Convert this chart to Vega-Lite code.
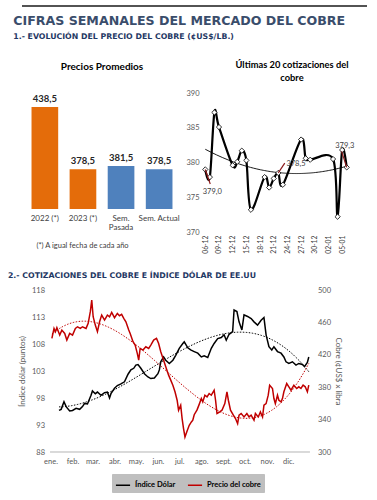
{
  "$schema": "https://vega.github.io/schema/vega-lite/v6.json",
  "background": "white",
  "padding": {"left": 7, "top": 5, "right": 2, "bottom": 2},
  "spacing": 18,
  "resolve": {"scale": {"color": "independent"}, "legend": {"color": "independent"}},
  "config": {
    "font": "Lato",
    "view": {"stroke": null},
    "axis": {"labelFont": "Lato", "labelColor": "#595959", "labelFontSize": 7.5, "titleFont": "Lato", "titleFontWeight": "normal", "titleColor": "#595959", "titleFontSize": 8, "grid": false, "ticks": false, "domain": false, "labelOverlap": false, "labelFlush": false, "labelBound": false},
    "legend": {"fillColor": "#BFBFBF", "strokeColor": "#BFBFBF"},
    "title": {"font": "Lato", "fontWeight": "bold", "fontSize": 10, "color": "#000000"},
    "locale": {"number": {"decimal": ",", "thousands": ".", "grouping": [3], "currency": ["$", ""]}}
  },
  "vconcat": [
    {
      "width": 345,
      "height": 1,
      "data": {"values": [{"v": 0}]},
      "mark": {"type": "rule", "color": "#1a1a1a", "strokeWidth": 1.5},
      "encoding": {"y": {"field": "v", "type": "quantitative", "axis": null, "scale": {"domain": [0, 1]}}},
      "title": {
        "text": "CIFRAS SEMANALES DEL MERCADO DEL COBRE",
        "subtitle": "1.- EVOLUCIÓN DEL PRECIO DEL COBRE (¢US$/LB.)",
        "orient": "bottom", "anchor": "start", "dx": -8, "offset": 8,
        "font": "DejaVu Sans", "fontSize": 12.6, "fontWeight": "bold", "color": "#3A4D6B",
        "subtitleFont": "DejaVu Sans", "subtitleFontSize": 7.8, "subtitleFontWeight": "bold", "subtitleColor": "#1F3864", "subtitlePadding": 6
      }
    },
    {
      "hconcat": [
        {
          "width": 160,
          "height": 116,
          "title": {"text": "Precios Promedios", "offset": 21},
          "data": {"values": [
            {"cat": "2022 (*)", "value": 438.5, "grp": "anual"},
            {"cat": "2023 (*)", "value": 378.5, "grp": "anual"},
            {"cat": "Sem. Pasada", "value": 381.5, "grp": "semana"},
            {"cat": "Sem. Actual", "value": 378.5, "grp": "semana"}
          ]},
          "encoding": {
            "x": {"field": "cat", "type": "nominal", "sort": null,
              "scale": {"paddingInner": 0.3, "paddingOuter": 0.25},
              "axis": {"title": "(*) A igual fecha de cada año", "labelAngle": 0, "labelFontSize": 8, "labelColor": "#404040", "labelPadding": 5,
                "labelExpr": "datum.value == 'Sem. Pasada' ? ['Sem.', 'Pasada'] : datum.label", "labelLineHeight": 9,
                "titleFontSize": 7.5, "titleColor": "#404040", "titlePadding": 10, "titleX": 60, "titleAlign": "center"}},
            "y": {"field": "value", "type": "quantitative", "scale": {"domain": [340, 452], "zero": false, "nice": false}, "axis": null}
          },
          "layer": [
            {"mark": {"type": "bar"},
             "encoding": {"y2": {"datum": 340},
               "color": {"field": "grp", "type": "nominal", "scale": {"domain": ["anual", "semana"], "range": ["#E46C0A", "#4F81BD"]}, "legend": null}}},
            {"mark": {"type": "text", "baseline": "bottom", "dy": -3, "fontWeight": "bold", "fontSize": 9.5, "font": "Lato", "color": "#262626"},
             "encoding": {"text": {"field": "value", "type": "quantitative", "format": ".1f"}}}
          ]
        },
        {
          "width": 146,
          "height": 139,
          "title": {"text": ["Últimas 20 cotizaciones del", "cobre"], "dx": 16, "offset": 6, "lineHeight": 13, "fontSize": 9.3},
          "encoding": {
            "x": {"field": "date", "type": "temporal",
              "scale": {"type": "utc", "domain": [{"year": 2022, "month": 12, "date": 5, "hours": 12, "utc": true}, {"year": 2023, "month": 1, "date": 6, "hours": 12, "utc": true}]},
              "axis": {"title": null, "format": "%d-%m", "labelAngle": -90, "labelPadding": 3, "labelFontSize": 6.8, "labelColor": "#404040", "labelOverlap": false, "labelFlush": false,
                "values": [
                  {"year": 2022, "month": 12, "date": 6, "utc": true},
                  {"year": 2022, "month": 12, "date": 9, "utc": true},
                  {"year": 2022, "month": 12, "date": 12, "utc": true},
                  {"year": 2022, "month": 12, "date": 15, "utc": true},
                  {"year": 2022, "month": 12, "date": 18, "utc": true},
                  {"year": 2022, "month": 12, "date": 21, "utc": true},
                  {"year": 2022, "month": 12, "date": 24, "utc": true},
                  {"year": 2022, "month": 12, "date": 27, "utc": true},
                  {"year": 2022, "month": 12, "date": 30, "utc": true},
                  {"year": 2023, "month": 1, "date": 2, "utc": true},
                  {"year": 2023, "month": 1, "date": 5, "utc": true}
                ]}},
            "y": {"field": "value", "type": "quantitative", "scale": {"domain": [370, 390], "nice": false, "zero": false},
              "axis": {"title": null, "values": [370, 375, 380, 385, 390], "labelPadding": 4}}
          },
          "layer": [
            {
              "data": {"values": [
                {"date": "2022-12-06", "value": 379.0},
                {"date": "2022-12-07", "value": 377.9},
                {"date": "2022-12-08", "value": 387.2},
                {"date": "2022-12-09", "value": 385.1},
                {"date": "2022-12-12", "value": 379.6},
                {"date": "2022-12-13", "value": 380.1},
                {"date": "2022-12-14", "value": 381.7},
                {"date": "2022-12-15", "value": 380.3},
                {"date": "2022-12-16", "value": 373.2},
                {"date": "2022-12-19", "value": 377.9},
                {"date": "2022-12-20", "value": 376.4},
                {"date": "2022-12-21", "value": 377.7},
                {"date": "2022-12-22", "value": 378.5},
                {"date": "2022-12-23", "value": 376.8},
                {"date": "2022-12-27", "value": 383.3},
                {"date": "2022-12-28", "value": 380.6},
                {"date": "2022-12-29", "value": 380.4},
                {"date": "2023-01-03", "value": 380.5},
                {"date": "2023-01-04", "value": 372.2},
                {"date": "2023-01-05", "value": 381.8},
                {"date": "2023-01-06", "value": 379.3}
              ], "format": {"parse": {"date": "date"}}},
              "layer": [
                {"transform": [{"regression": "value", "on": "date", "method": "poly", "order": 2}],
                 "mark": {"type": "line", "color": "#000000", "strokeWidth": 0.9}},
                {"mark": {"type": "line", "color": "#000000", "strokeWidth": 2.2, "interpolate": "cardinal"}},
                {"mark": {"type": "point", "shape": "diamond", "filled": true, "fill": "white", "stroke": "#000000", "strokeWidth": 0.8, "size": 28, "opacity": 1}}
              ]
            },
            {
              "data": {"values": [
                {"date": "2022-12-06", "value": 379.0, "ldate": "2022-12-07T02:00Z", "lvalue": 376.9, "tdate": "2022-12-07T13:00Z", "tvalue": 375.8, "label": "379,0"},
                {"date": "2022-12-22", "value": 378.5, "ldate": "2022-12-23T10:00Z", "lvalue": 379.9, "tdate": "2022-12-25T21:00Z", "tvalue": 379.8, "label": "378,5"},
                {"date": "2023-01-06", "value": 379.3, "ldate": "2023-01-04T21:00Z", "lvalue": 381.6, "tdate": "2023-01-05T14:00Z", "tvalue": 382.4, "label": "379,3"}
              ], "format": {"parse": {"date": "date", "ldate": "date", "tdate": "date"}}},
              "layer": [
                {"mark": {"type": "rule", "color": "#8B1A1A", "strokeWidth": 1.2},
                 "encoding": {"x2": {"field": "ldate"}, "y2": {"field": "lvalue"}}},
                {"mark": {"type": "text", "fontSize": 7.5, "color": "#404040", "baseline": "middle", "align": "center"},
                 "encoding": {"x": {"field": "tdate", "type": "temporal"}, "y": {"field": "tvalue", "type": "quantitative"}, "text": {"field": "label"}}}
              ]
            }
          ]
        }
      ],
      "spacing": 3
    },
    {
      "width": 287.5,
      "height": 162,
      "title": {"text": "2.- COTIZACIONES DEL COBRE E ÍNDICE DÓLAR DE EE.UU", "anchor": "start", "dx": -10.5, "offset": 6,
        "font": "DejaVu Sans", "fontSize": 7.8, "fontWeight": "bold", "color": "#1F3864"},
      "encoding": {
        "x": {"field": "date", "type": "temporal",
          "scale": {"type": "utc", "domain": [{"year": 2021, "month": 11, "date": 22, "utc": true}, {"year": 2022, "month": 12, "date": 31, "utc": true}]},
          "axis": {"title": null, "labelPadding": 5, "labelColor": "#595959", "labelOverlap": false, "labelFlush": false,
            "values": [
              {"year": 2022, "month": 1, "date": 1, "utc": true}, {"year": 2022, "month": 2, "date": 1, "utc": true},
              {"year": 2022, "month": 3, "date": 1, "utc": true}, {"year": 2022, "month": 4, "date": 1, "utc": true},
              {"year": 2022, "month": 5, "date": 1, "utc": true}, {"year": 2022, "month": 6, "date": 1, "utc": true},
              {"year": 2022, "month": 7, "date": 1, "utc": true}, {"year": 2022, "month": 8, "date": 1, "utc": true},
              {"year": 2022, "month": 9, "date": 1, "utc": true}, {"year": 2022, "month": 10, "date": 1, "utc": true},
              {"year": 2022, "month": 11, "date": 1, "utc": true}, {"year": 2022, "month": 12, "date": 1, "utc": true}
            ],
            "labelExpr": "['ene.','feb.','mar.','abr.','may.','jun.','jul.','ago.','sept.','oct.','nov.','dic.'][utcmonth(datum.value)]"}}
      },
      "layer": [
        {
          "data": {"values": [
            {"date": "2022-01-13", "value": 95.7}, {"date": "2022-01-16", "value": 95.9}, {"date": "2022-01-20", "value": 97.3},
            {"date": "2022-01-23", "value": 96.4}, {"date": "2022-01-28", "value": 95.6}, {"date": "2022-02-01", "value": 95.7},
            {"date": "2022-02-06", "value": 96.1}, {"date": "2022-02-11", "value": 95.9}, {"date": "2022-02-15", "value": 96.4},
            {"date": "2022-02-18", "value": 97.0}, {"date": "2022-02-22", "value": 96.9}, {"date": "2022-02-27", "value": 98.5},
            {"date": "2022-03-01", "value": 99.3}, {"date": "2022-03-05", "value": 98.8}, {"date": "2022-03-08", "value": 99.1},
            {"date": "2022-03-13", "value": 98.5}, {"date": "2022-03-18", "value": 99.0}, {"date": "2022-03-22", "value": 99.1},
            {"date": "2022-03-25", "value": 98.0}, {"date": "2022-03-27", "value": 98.8}, {"date": "2022-04-01", "value": 99.8},
            {"date": "2022-04-05", "value": 100.3}, {"date": "2022-04-10", "value": 100.6}, {"date": "2022-04-15", "value": 101.0},
            {"date": "2022-04-20", "value": 102.4}, {"date": "2022-04-24", "value": 103.2}, {"date": "2022-04-28", "value": 103.5},
            {"date": "2022-05-01", "value": 104.1}, {"date": "2022-05-04", "value": 104.2}, {"date": "2022-05-08", "value": 103.5},
            {"date": "2022-05-13", "value": 102.5}, {"date": "2022-05-18", "value": 101.9}, {"date": "2022-05-22", "value": 101.6},
            {"date": "2022-05-27", "value": 101.7}, {"date": "2022-06-01", "value": 102.5}, {"date": "2022-06-03", "value": 103.2},
            {"date": "2022-06-05", "value": 104.7}, {"date": "2022-06-09", "value": 105.6}, {"date": "2022-06-12", "value": 105.0},
            {"date": "2022-06-17", "value": 104.4}, {"date": "2022-06-22", "value": 105.0}, {"date": "2022-06-26", "value": 105.9},
            {"date": "2022-07-01", "value": 107.2}, {"date": "2022-07-06", "value": 108.1}, {"date": "2022-07-08", "value": 108.4},
            {"date": "2022-07-13", "value": 107.3}, {"date": "2022-07-17", "value": 106.9}, {"date": "2022-07-22", "value": 106.6},
            {"date": "2022-07-27", "value": 106.3}, {"date": "2022-08-01", "value": 105.6}, {"date": "2022-08-05", "value": 105.8},
            {"date": "2022-08-10", "value": 105.5}, {"date": "2022-08-15", "value": 107.2}, {"date": "2022-08-19", "value": 108.1},
            {"date": "2022-08-24", "value": 109.0}, {"date": "2022-08-29", "value": 109.2}, {"date": "2022-09-02", "value": 109.7},
            {"date": "2022-09-05", "value": 108.7}, {"date": "2022-09-09", "value": 109.8}, {"date": "2022-09-14", "value": 110.3},
            {"date": "2022-09-16", "value": 114.3}, {"date": "2022-09-20", "value": 114.0}, {"date": "2022-09-23", "value": 112.1},
            {"date": "2022-09-27", "value": 110.6}, {"date": "2022-09-30", "value": 113.4}, {"date": "2022-10-05", "value": 113.1},
            {"date": "2022-10-10", "value": 112.7}, {"date": "2022-10-14", "value": 112.1}, {"date": "2022-10-19", "value": 111.5},
            {"date": "2022-10-24", "value": 112.4}, {"date": "2022-10-28", "value": 112.9}, {"date": "2022-10-31", "value": 109.7},
            {"date": "2022-11-04", "value": 107.5}, {"date": "2022-11-08", "value": 106.9}, {"date": "2022-11-11", "value": 107.5},
            {"date": "2022-11-16", "value": 106.6}, {"date": "2022-11-21", "value": 106.3}, {"date": "2022-11-25", "value": 105.6},
            {"date": "2022-11-28", "value": 104.7}, {"date": "2022-12-02", "value": 104.4}, {"date": "2022-12-07", "value": 104.7},
            {"date": "2022-12-12", "value": 104.1}, {"date": "2022-12-16", "value": 104.4}, {"date": "2022-12-21", "value": 104.2},
            {"date": "2022-12-24", "value": 103.8}, {"date": "2022-12-28", "value": 104.6}, {"date": "2022-12-30", "value": 105.6}
          ], "format": {"parse": {"date": "date"}}},
          "encoding": {
            "y": {"field": "value", "type": "quantitative", "scale": {"domain": [88, 118], "nice": false, "zero": false},
              "axis": {"orient": "left", "offset": -28.5, "title": "Índice dólar (puntos)", "values": [88, 93, 98, 103, 108, 113, 118], "labelPadding": 6, "titlePadding": 5}}
          },
          "layer": [
            {"mark": {"type": "rule", "color": "#D9D9D9", "strokeWidth": 1},
             "encoding": {
               "x": {"datum": {"year": 2022, "month": 1, "date": 1, "utc": true}, "type": "temporal"},
               "x2": {"datum": {"year": 2022, "month": 12, "date": 31, "utc": true}},
               "y": {"datum": 88, "type": "quantitative"}}},
            {"mark": {"type": "line", "strokeWidth": 1.5},
             "encoding": {"color": {"datum": "Índice Dólar", "type": "nominal",
               "scale": {"domain": ["Índice Dólar", "Precio del cobre"], "range": ["#000000", "#C00000"]},
               "legend": {"orient": "none", "legendX": 90, "legendY": 184, "direction": "horizontal", "title": null,
                 "fillColor": "#BFBFBF", "strokeColor": "#BFBFBF", "padding": 3, "labelFontSize": 7.5, "labelFont": "Lato", "labelFontWeight": "bold", "labelColor": "#000000",
                 "symbolType": "stroke", "symbolStrokeWidth": 1.5, "symbolSize": 200, "columnPadding": 8,
                 "encode": {"legend": {"update": {"fill": {"value": "#BFBFBF"}, "stroke": {"value": "#BFBFBF"}}}}}}}},
            {"transform": [{"regression": "value", "on": "date", "method": "poly", "order": 3}],
             "mark": {"type": "line", "color": "#000000", "strokeWidth": 1, "strokeDash": [1.5, 1.5]}}
          ]
        },
        {
          "data": {"values": [
            {"date": "2022-01-03", "value": 440.2}, {"date": "2022-01-06", "value": 452.6}, {"date": "2022-01-08", "value": 448.5},
            {"date": "2022-01-10", "value": 453.4}, {"date": "2022-01-14", "value": 444.3}, {"date": "2022-01-17", "value": 450.5},
            {"date": "2022-01-21", "value": 446.4}, {"date": "2022-01-24", "value": 438.2}, {"date": "2022-01-28", "value": 446.4},
            {"date": "2022-02-01", "value": 444.3}, {"date": "2022-02-05", "value": 452.6}, {"date": "2022-02-08", "value": 454.6},
            {"date": "2022-02-12", "value": 452.6}, {"date": "2022-02-15", "value": 454.6}, {"date": "2022-02-20", "value": 452.6},
            {"date": "2022-02-23", "value": 458.8}, {"date": "2022-02-26", "value": 473.2}, {"date": "2022-02-28", "value": 487.6},
            {"date": "2022-03-02", "value": 467.0}, {"date": "2022-03-05", "value": 456.7}, {"date": "2022-03-08", "value": 448.5},
            {"date": "2022-03-11", "value": 460.8}, {"date": "2022-03-14", "value": 469.1}, {"date": "2022-03-18", "value": 462.9},
            {"date": "2022-03-22", "value": 469.1}, {"date": "2022-03-25", "value": 467.0}, {"date": "2022-03-28", "value": 472.4},
            {"date": "2022-04-01", "value": 465.8}, {"date": "2022-04-05", "value": 471.1}, {"date": "2022-04-08", "value": 468.3},
            {"date": "2022-04-11", "value": 469.9}, {"date": "2022-04-14", "value": 465.0}, {"date": "2022-04-17", "value": 460.8},
            {"date": "2022-04-21", "value": 450.5}, {"date": "2022-04-23", "value": 446.4}, {"date": "2022-04-27", "value": 436.1},
            {"date": "2022-04-30", "value": 432.0}, {"date": "2022-05-03", "value": 421.7}, {"date": "2022-05-05", "value": 413.4},
            {"date": "2022-05-07", "value": 427.9}, {"date": "2022-05-11", "value": 425.8}, {"date": "2022-05-15", "value": 429.9},
            {"date": "2022-05-19", "value": 427.9}, {"date": "2022-05-22", "value": 432.0}, {"date": "2022-05-26", "value": 438.2},
            {"date": "2022-05-30", "value": 440.2}, {"date": "2022-06-02", "value": 434.0}, {"date": "2022-06-05", "value": 423.7},
            {"date": "2022-06-09", "value": 413.4}, {"date": "2022-06-12", "value": 405.2}, {"date": "2022-06-16", "value": 394.9},
            {"date": "2022-06-19", "value": 388.7}, {"date": "2022-06-22", "value": 382.5}, {"date": "2022-06-25", "value": 374.3},
            {"date": "2022-06-28", "value": 363.9}, {"date": "2022-06-30", "value": 351.6}, {"date": "2022-07-03", "value": 357.8},
            {"date": "2022-07-05", "value": 341.3}, {"date": "2022-07-07", "value": 328.9}, {"date": "2022-07-09", "value": 318.6},
            {"date": "2022-07-12", "value": 326.0}, {"date": "2022-07-15", "value": 333.0}, {"date": "2022-07-18", "value": 337.1},
            {"date": "2022-07-20", "value": 339.2}, {"date": "2022-07-22", "value": 346.0}, {"date": "2022-07-26", "value": 352.0},
            {"date": "2022-07-29", "value": 358.8}, {"date": "2022-08-01", "value": 366.0}, {"date": "2022-08-03", "value": 361.9},
            {"date": "2022-08-06", "value": 370.1}, {"date": "2022-08-09", "value": 368.1}, {"date": "2022-08-12", "value": 372.2},
            {"date": "2022-08-15", "value": 370.1}, {"date": "2022-08-19", "value": 376.3}, {"date": "2022-08-21", "value": 363.9},
            {"date": "2022-08-23", "value": 347.5}, {"date": "2022-08-27", "value": 349.5}, {"date": "2022-08-30", "value": 351.6},
            {"date": "2022-09-03", "value": 359.8}, {"date": "2022-09-06", "value": 374.3}, {"date": "2022-09-08", "value": 363.9},
            {"date": "2022-09-11", "value": 351.6}, {"date": "2022-09-15", "value": 345.4}, {"date": "2022-09-18", "value": 341.3},
            {"date": "2022-09-21", "value": 335.1}, {"date": "2022-09-23", "value": 345.4}, {"date": "2022-09-26", "value": 347.5},
            {"date": "2022-09-30", "value": 343.3}, {"date": "2022-10-04", "value": 347.5}, {"date": "2022-10-07", "value": 343.3},
            {"date": "2022-10-10", "value": 345.4}, {"date": "2022-10-14", "value": 339.2}, {"date": "2022-10-16", "value": 347.5},
            {"date": "2022-10-20", "value": 343.3}, {"date": "2022-10-23", "value": 349.5}, {"date": "2022-10-26", "value": 343.3},
            {"date": "2022-10-28", "value": 357.8}, {"date": "2022-10-31", "value": 359.8}, {"date": "2022-11-03", "value": 370.1},
            {"date": "2022-11-05", "value": 382.5}, {"date": "2022-11-09", "value": 378.4}, {"date": "2022-11-11", "value": 366.0},
            {"date": "2022-11-13", "value": 359.8}, {"date": "2022-11-16", "value": 370.1}, {"date": "2022-11-18", "value": 363.9},
            {"date": "2022-11-21", "value": 361.9}, {"date": "2022-11-23", "value": 366.0}, {"date": "2022-11-25", "value": 374.3},
            {"date": "2022-11-29", "value": 384.6}, {"date": "2022-12-02", "value": 380.5}, {"date": "2022-12-05", "value": 376.3},
            {"date": "2022-12-09", "value": 382.5}, {"date": "2022-12-13", "value": 378.4}, {"date": "2022-12-16", "value": 380.5},
            {"date": "2022-12-19", "value": 378.4}, {"date": "2022-12-22", "value": 382.5}, {"date": "2022-12-25", "value": 380.5},
            {"date": "2022-12-28", "value": 374.3}, {"date": "2022-12-30", "value": 382.5}
          ], "format": {"parse": {"date": "date"}}},
          "encoding": {
            "y": {"field": "value", "type": "quantitative", "scale": {"domain": [300, 500], "nice": false, "zero": false},
              "axis": {"orient": "right", "title": "Cobre (¢US$ x libra", "values": [300, 340, 380, 420, 460, 500], "labelPadding": 8, "titlePadding": 3}}
          },
          "layer": [
            {"mark": {"type": "line", "strokeWidth": 1.5},
             "encoding": {"color": {"datum": "Precio del cobre", "type": "nominal",
               "scale": {"domain": ["Índice Dólar", "Precio del cobre"], "range": ["#000000", "#C00000"]},
               "legend": {"orient": "none", "legendX": 90, "legendY": 184, "direction": "horizontal", "title": null,
                 "fillColor": "#BFBFBF", "strokeColor": "#BFBFBF", "padding": 3, "labelFontSize": 7.5, "labelFont": "Lato", "labelFontWeight": "bold", "labelColor": "#000000",
                 "symbolType": "stroke", "symbolStrokeWidth": 1.5, "symbolSize": 200, "columnPadding": 8,
                 "encode": {"legend": {"update": {"fill": {"value": "#BFBFBF"}, "stroke": {"value": "#BFBFBF"}}}}}}}},
            {"transform": [{"regression": "value", "on": "date", "method": "poly", "order": 3}],
             "mark": {"type": "line", "color": "#C00000", "strokeWidth": 1, "strokeDash": [1.5, 1.5]}}
          ]
        }
      ],
      "resolve": {"scale": {"y": "independent"}}
    }
  ]
}
